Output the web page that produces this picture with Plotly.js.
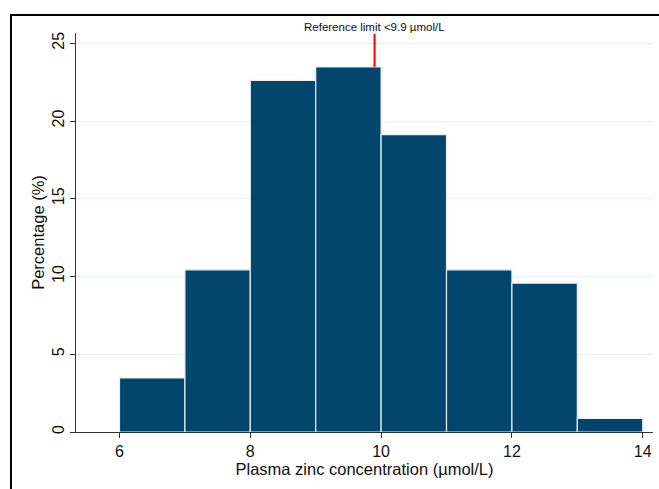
<!DOCTYPE html>
<html>
<head>
<meta charset="utf-8">
<script src="https://cdn.plot.ly/plotly-3.0.1.min.js"></script>
<style>html,body{margin:0;padding:0;background:#fff;}#chart{width:659px;height:489px;}</style>
</head>
<body>
<div id="chart"></div>
<script>
// Data
const binStart = [6, 7, 8, 9, 10, 11, 12, 13];
const binWidth = 1;
const percentage = [3.48, 10.43, 22.61, 23.48, 19.13, 10.43, 9.57, 0.87];
const refLimit = 9.9;
const refLabel = 'Reference limit <9.9 µmol/L';
const xTicks = [6, 8, 10, 12, 14];
const yTicks = [0, 5, 10, 15, 20, 25];

const binCenters = binStart.map(b => b + binWidth / 2);
const refBarHeight = percentage[binStart.findIndex(b => refLimit >= b && refLimit < b + binWidth)];

const font = 'Liberation Sans, Arial, Helvetica, sans-serif';
const yTop = 25.66;

const traces = [{
  type: 'bar',
  x: binCenters,
  y: percentage,
  width: binWidth,
  marker: {color: '#02466e', line: {color: '#e6eef2', width: 1.2}},
  hoverinfo: 'x+y',
  showlegend: false
}];

const layout = {
  width: 659, height: 489,
  margin: {l: 76, r: 6, t: 33, b: 57},
  paper_bgcolor: '#fff', plot_bgcolor: '#fff',
  font: {family: font, color: '#111'},
  bargap: 0,
  showlegend: false,
  xaxis: {
    range: [5.335, 14.157],
    tickvals: xTicks,
    ticks: 'outside', ticklen: 5, tickcolor: '#333', tickwidth: 1,
    showline: true, linecolor: '#333', linewidth: 1,
    showgrid: false, zeroline: false,
    tickfont: {size: 16, family: font, color: '#111'},
    title: {text: 'Plasma zinc concentration (µmol/L)', font: {size: 16.5, family: font, color: '#111'}, standoff: 2}
  },
  yaxis: {
    range: [0, yTop],
    tickvals: yTicks,
    tickangle: -90,
    ticks: 'outside', ticklen: 5, tickcolor: '#333', tickwidth: 1,
    showline: true, linecolor: '#333', linewidth: 1,
    showgrid: true, gridcolor: '#e8f0f2', gridwidth: 1,
    zeroline: false,
    tickfont: {size: 16, family: font, color: '#111'},
    title: {text: 'Percentage (%)', font: {size: 16.5, family: font, color: '#111'}, standoff: 0}
  },
  shapes: [
    {type: 'line', xref: 'x', yref: 'y', x0: refLimit, x1: refLimit, y0: refBarHeight, y1: yTop - 0.05,
     line: {color: '#ff0000', width: 2}},
    {type: 'rect', xref: 'paper', yref: 'paper', x0: -0.1127, x1: 1.2, y0: -0.3, y1: 1.045,
     line: {color: '#000', width: 2}, fillcolor: 'rgba(0,0,0,0)', layer: 'above'}
  ],
  annotations: [{
    x: refLimit, xref: 'x', y: 1, yref: 'paper', yanchor: 'bottom', xanchor: 'center',
    text: refLabel, showarrow: false, font: {size: 11.5, family: font, color: '#111'}, yshift: -2
  }]
};

Plotly.newPlot('chart', traces, layout, {displayModeBar: false, staticPlot: true});
</script>
</body>
</html>
